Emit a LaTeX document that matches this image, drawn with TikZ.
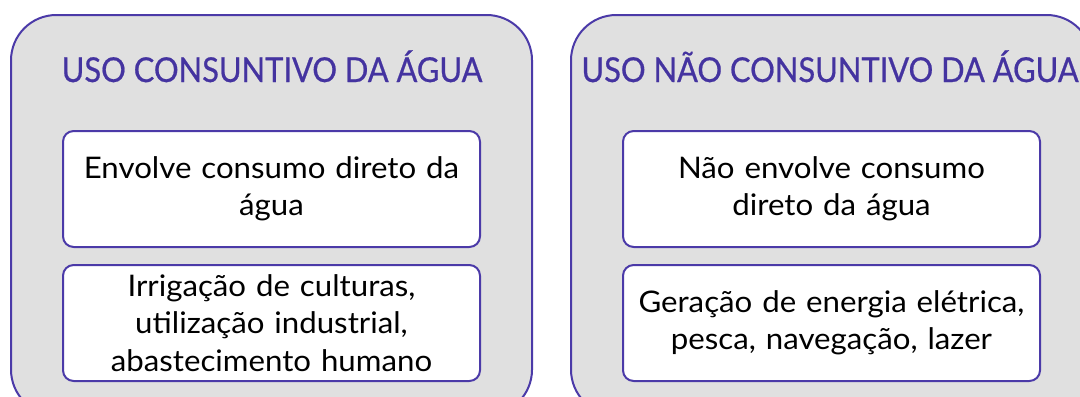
\documentclass[tikz,border=0pt]{standalone}
\usepackage{fontspec}
\setmainfont{Lato}
\newfontfamily\ttlfont[FakeStretch=0.9,FakeBold=0.6]{Lato}
\newfontfamily\bodyfont[FakeStretch=1.05]{Lato}
\definecolor{bord}{HTML}{4B3AA8}
\definecolor{ttl}{HTML}{4433A0}
\definecolor{panel}{HTML}{E0E0E0}
\begin{document}
\begin{tikzpicture}[x=0.75pt,y=-0.75pt,
  panelbox/.style={draw=bord,fill=panel,line width=1.5pt,rounded corners=34pt,minimum width=390.75pt,minimum height=300pt,anchor=north west,inner sep=0pt},
  itembox/.style={draw=bord,fill=white,line width=1.5pt,rounded corners=8pt,minimum width=312.75pt,minimum height=87pt,text width=305pt,align=center,inner sep=0pt,font=\bodyfont\fontsize{22.3}{28}\selectfont,anchor=north west},
  ttlstyle/.style={text=ttl,font=\ttlfont\fontsize{25.7}{30}\selectfont,anchor=base,inner sep=0pt}]
\useasboundingbox (0,0) rectangle (1080,396);
\clip (0,0) rectangle (1080,396);
\node[panelbox] (pL) at (10,14) {};
\node[panelbox] (pR) at (570,14) {};
\node[ttlstyle] (tL) at (272,82) {USO CONSUNTIVO DA ÁGUA};
\node[ttlstyle] (tR) at (830,82) {USO NÃO CONSUNTIVO DA ÁGUA};
\node[itembox] (l1) at (62,130) {Envolve consumo direto da\\água};
\node[itembox] (l2) at (62,264) {Irrigação de culturas,\\utilização industrial,\\abastecimento humano};
\node[itembox] (r1) at (622,130) {Não envolve consumo\\direto da água};
\node[itembox] (r2) at (622,264) {Geração de energia elétrica,\\pesca, navegação, lazer};
\end{tikzpicture}
\end{document}
